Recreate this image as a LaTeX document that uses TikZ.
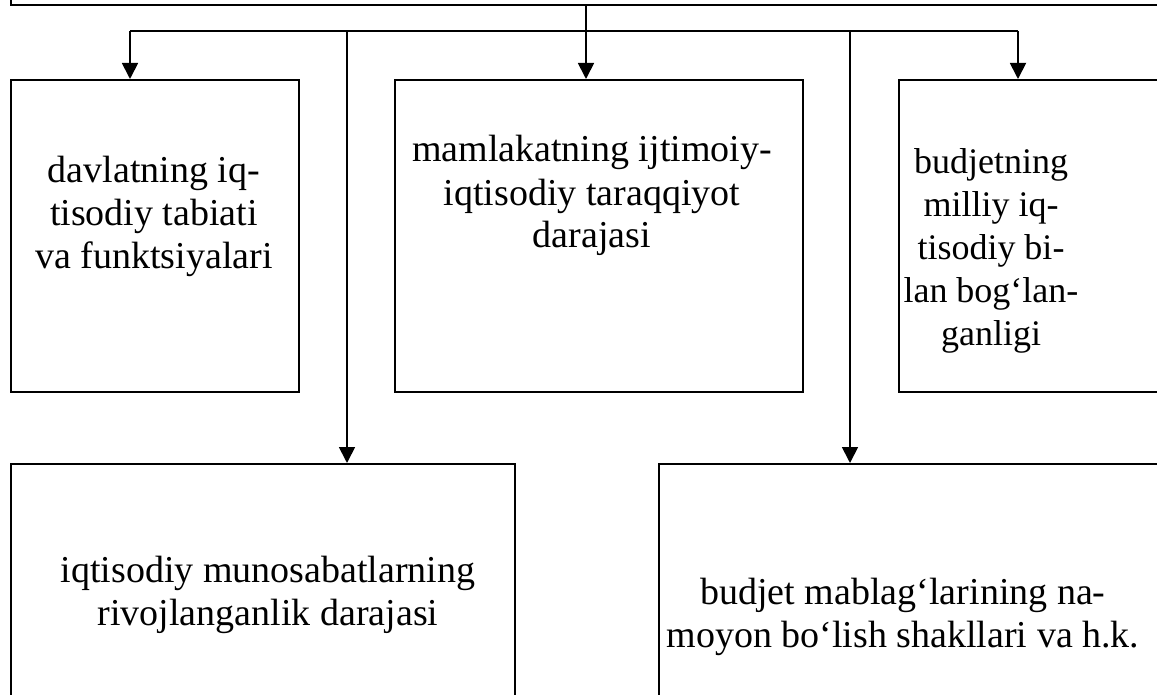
\documentclass[tikz,border=0pt]{standalone}
\usepackage{fontspec}
\setmainfont{Liberation Serif}
\usetikzlibrary{arrows.meta}
\tikzset{
  box/.style={draw, line width=2.2pt, rectangle, inner sep=0pt},
  conn/.style={draw, line width=1.8pt},
  arr/.style={conn, -{Triangle[width=16pt,length=16pt]}},
  txt/.style={align=center, inner sep=0pt, anchor=base, font=\fontsize{38}{43}\selectfont},
  txtsmall/.style={txt, font=\fontsize{36}{43}\selectfont}
}
\begin{document}
\begin{tikzpicture}[x=1pt,y=1pt]
\useasboundingbox (0,0) rectangle (1157,-695);
\clip (0,0) rectangle (1157,-695);
% boxes
\node[box, minimum width=1200pt, minimum height=60pt, anchor=south west] (top) at (10,-6.5) {};
\node[box, minimum width=288pt, minimum height=312pt, anchor=north west] (b1) at (10,-79) {};
\node[box, minimum width=408pt, minimum height=312pt, anchor=north west] (b2) at (394,-79) {};
\node[box, minimum width=320pt, minimum height=312pt, anchor=north west] (b3) at (898,-79) {};
\node[box, minimum width=504pt, minimum height=260pt, anchor=north west] (b4) at (10,-463) {};
\node[box, minimum width=560pt, minimum height=260pt, anchor=north west] (b5) at (658,-463) {};
% texts (anchor base = baseline of the last line)
\node[txt] (t1) at (154,-269) {davlatning iq-\\tisodiy tabiati\\va funktsiyalari};
\node[txt] (t2) at (592,-248) {mamlakatning ijtimoiy-\\iqtisodiy taraqqiyot\\darajasi};
\node[txtsmall] (t3) at (991,-345) {budjetning\\milliy iq-\\tisodiy bi-\\lan bog‘lan-\\ganligi};
\node[txt] (t4) at (268,-625) {iqtisodiy munosabatlarning\\rivojlanganlik darajasi};
\node[txt] (t5) at (903,-647) {budjet mablag‘larining na-\\moyon bo‘lish shakllari va h.k.};
% connectors
\coordinate (j) at (586,-31);
\coordinate (hL) at (130,-31);
\coordinate (hR) at (1018,-31);
\coordinate (h4) at (347,-31);
\coordinate (h5) at (850,-31);
\draw[conn] (top.south -| j) -- (j);
\draw[conn] (hL) -- (hR);
\draw[arr] (hL) -- (hL |- b1.north);
\draw[arr] (j) -- (j |- b2.north);
\draw[arr] (hR) -- (hR |- b3.north);
\draw[arr] (h4) -- (h4 |- b4.north);
\draw[arr] (h5) -- (h5 |- b5.north);
\end{tikzpicture}
\end{document}
